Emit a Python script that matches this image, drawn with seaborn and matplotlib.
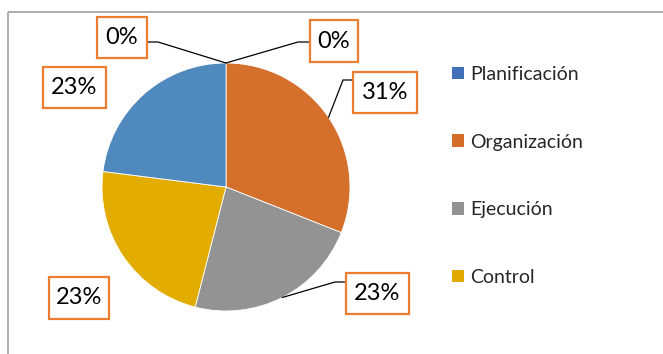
import matplotlib
matplotlib.use("Agg")
import matplotlib.pyplot as plt
from matplotlib.patches import Rectangle, Patch
import numpy as np
import seaborn as sns

# Pie data, clockwise from 12 o'clock (two empty categories at 0%)
categories = ["", "Organización", "Ejecución", "Control", "Planificación", ""]
shares = [0, 31, 23, 23, 23, 0]
legend_order = ["Planificación", "Organización", "Ejecución", "Control"]

slice_colors = {
    "Planificación": "#4F89BD",
    "Organización": "#D4702B",
    "Ejecución": "#939393",
    "Control": "#E2AC00",
    "": "#FFFFFF",
}
legend_colors = {
    "Planificación": "#4270B8",
    "Organización": "#D46C2A",
    "Ejecución": "#929292",
    "Control": "#E2AA00",
}
box_edge = "#ED7D31"

sns.set_theme(style="white")
plt.rcParams["font.family"] = ["Lato", "DejaVu Sans"]

W, H = 663, 354
fig = plt.figure(figsize=(W / 100, H / 100), dpi=100)
ax = fig.add_axes([0, 0, 1, 1])


def py(y):
    """Convert a top-down pixel row into the axes' bottom-up y."""
    return H - y


cx, cy, r = 226, py(187), 124
wedges, _ = ax.pie(
    shares,
    colors=[slice_colors[c] for c in categories],
    startangle=90,
    counterclock=False,
    center=(cx, cy),
    radius=r,
    frame=True,
    wedgeprops=dict(linewidth=0.6, edgecolor="white"),
)
for w, v in zip(wedges, shares):
    if v == 0:
        w.set_linewidth(0)

ax.set_xlim(0, W)
ax.set_ylim(0, H)
ax.set_aspect("equal")
ax.axis("off")

# Chart-area border (top and left edges)
ax.plot([8, W], [py(12), py(12)], color="#A6A6A6", lw=1.3, solid_capstyle="butt")
ax.plot([8, 8], [py(12), 0], color="#A6A6A6", lw=1.3, solid_capstyle="butt")

# Data label boxes (left, top, right, bottom in pixels) and leader elbows
label_boxes = [
    (310, 20, 358, 62),
    (353, 72, 417, 113),
    (346, 273, 409, 314),
    (49, 277, 109, 319),
    (43, 67, 106, 108),
    (97, 17, 147, 58),
]
leader_elbows = [
    ((298, 42), (310, 42)),
    ((343, 80), (353, 80)),
    ((335, 282), (346, 282)),
    None,
    None,
    ((158, 42), (147, 42)),
]

total = float(sum(shares))
cum = np.cumsum([0] + shares[:-1])
for v, start, box, elbow in zip(shares, cum, label_boxes, leader_elbows):
    mid = np.deg2rad(360.0 * (start + v / 2.0) / total)
    ex, ey = cx + r * np.sin(mid), cy + r * np.cos(mid)
    if elbow is not None:
        (x1, y1), (x2, y2) = elbow
        ax.plot([ex, x1, x2], [ey, py(y1), py(y2)], color="black", lw=0.9,
                solid_joinstyle="miter", zorder=3)
    l, t, rr, b = box
    ax.add_patch(Rectangle((l, py(b)), rr - l, b - t, facecolor="white",
                           edgecolor=box_edge, lw=1.6, zorder=4))
    ax.text((l + rr) / 2, py((t + b) / 2), f"{v}%", ha="center", va="center",
            fontsize=17, color="black", zorder=5)

handles = [Patch(facecolor=legend_colors[c], edgecolor="none") for c in legend_order]
ax.legend(
    handles, legend_order,
    loc="upper left", bbox_to_anchor=(452 / W, 1 - 66 / H),
    frameon=False, fontsize=14,
    handlelength=0.62, handleheight=0.62, handletextpad=0.3,
    labelspacing=2.6, borderpad=0, borderaxespad=0,
)

fig.savefig("out.png", dpi=100, facecolor="white")
